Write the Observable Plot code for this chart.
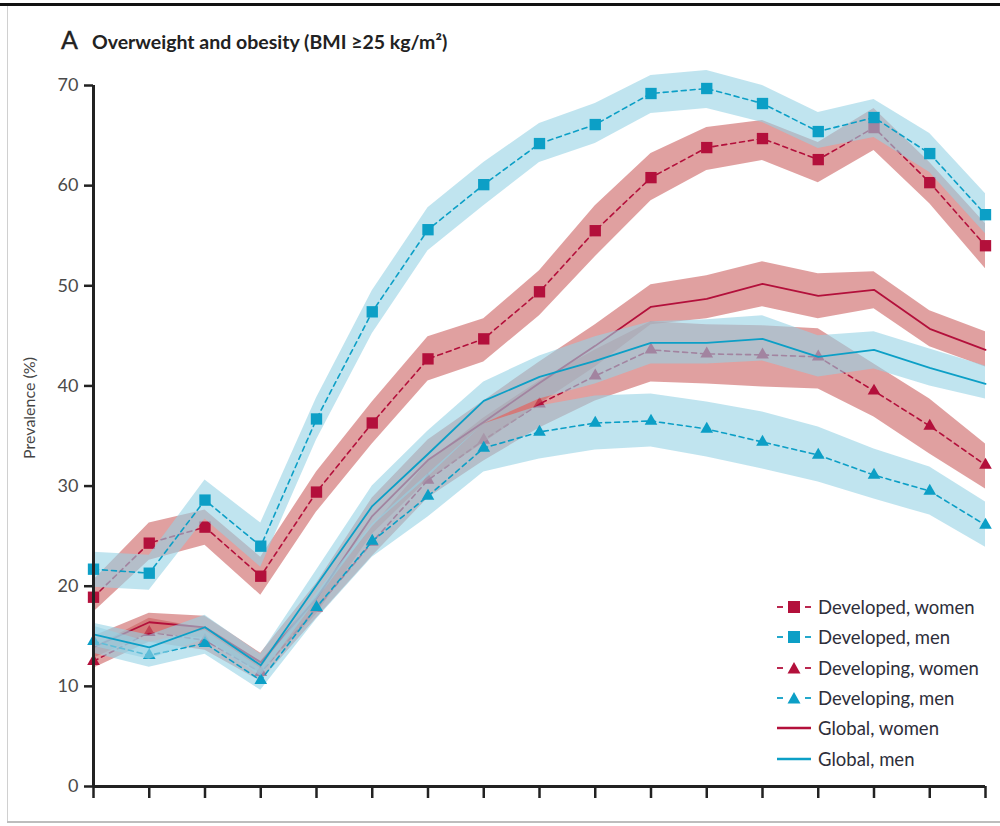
<!DOCTYPE html>
<html>
<head>
<meta charset="utf-8">
<script src="https://cdn.jsdelivr.net/npm/d3@7"></script>
<script src="https://cdn.jsdelivr.net/npm/@observablehq/plot@0.6"></script>
<style>
  body { margin: 0; background: #fff; }
  #wrap { position: relative; width: 1000px; height: 826px; overflow: hidden; font-family: Lato, "Open Sans", sans-serif; background: #fff; }
  #topbar { position: absolute; left: 0; top: 3px; width: 1000px; height: 3px; background: #111; }
  #leftbar { position: absolute; left: 7px; top: 6px; width: 1px; height: 816px; background: #d0d0d0; }
  #botbar { position: absolute; left: 7px; top: 821px; width: 993px; height: 2px; background: #bdbdbd; }
  #chart { position: absolute; left: 0; top: 0; width: 1000px; height: 826px; }
  #chart svg { max-width: none !important; }
  #title { position: absolute; left: 61px; top: 24px; color: #222; white-space: nowrap; }
  #title .letter { font-size: 25px; font-weight: 400; margin-right: 14px; -webkit-text-stroke: 0.4px #222; }
  #title .txt { font-size: 19.5px; font-weight: 700; letter-spacing: 0px; }
  #ylabel { position: absolute; left: 28px; top: 408px; transform: translate(-50%, -50%) rotate(-90deg); font-size: 16px; color: #444; white-space: nowrap; }
  #legend { position: absolute; left: 775px; top: 592px; }
  .lg { height: 30.3px; display: flex; align-items: center; }
  .lg svg { width: 38px; height: 22px; margin-right: 5px; }
  .lg span { font-size: 18.5px; color: #2e2e3a; white-space: nowrap; }
</style>
</head>
<body>
<div id="wrap">
  <div id="topbar"></div>
  <div id="leftbar"></div>
  <div id="botbar"></div>
  <div id="chart"></div>
  <div id="title"><span class="letter">A</span><span class="txt">Overweight and obesity (BMI ≥25 kg/m²)</span></div>
  <div id="ylabel">Prevalence (%)</div>
  <div id="legend"></div>
</div>
<script>
// Age groups (x categories; labels not shown in the reference)
const ages = ["2–4","5–9","10–14","15–19","20–24","25–29","30–34","35–39","40–44","45–49","50–54","55–59","60–64","65–69","70–74","75–79","80+"];
const yTicks = [0, 10, 20, 30, 40, 50, 60, 70];

// Developed, women
const devWomen   = [18.9, 24.3, 25.9, 21.0, 29.4, 36.3, 42.7, 44.7, 49.4, 55.5, 60.8, 63.8, 64.7, 62.6, 65.8, 60.3, 54.0];
const devWomenLo = [17.4, 22.6, 24.1, 19.1, 27.4, 34.2, 40.5, 42.4, 47.0, 52.9, 58.5, 61.5, 62.5, 60.3, 63.5, 58.2, 51.7];
const devWomenHi = [20.6, 26.3, 27.6, 22.9, 31.4, 38.4, 44.9, 46.7, 51.5, 58.0, 63.2, 65.8, 66.5, 64.3, 67.7, 62.3, 56.2];
// Developed, men
const devMen   = [21.7, 21.3, 28.6, 24.0, 36.7, 47.4, 55.6, 60.1, 64.2, 66.1, 69.2, 69.7, 68.2, 65.4, 66.8, 63.2, 57.1];
const devMenLo = [19.9, 19.6, 26.7, 21.9, 34.6, 45.2, 53.5, 58.0, 62.3, 64.2, 67.2, 67.7, 66.3, 63.7, 64.8, 61.3, 55.2];
const devMenHi = [23.4, 23.1, 30.6, 26.3, 38.8, 49.5, 57.8, 62.3, 66.2, 68.2, 71.0, 71.5, 70.0, 67.3, 68.6, 65.2, 59.2];
// Developing, women
const dvgWomen   = [12.5, 15.4, 14.6, 11.4, 17.8, 24.4, 30.6, 34.6, 38.2, 41.0, 43.6, 43.2, 43.1, 42.9, 39.5, 36.0, 32.1];
const dvgWomenLo = [11.8, 14.4, 13.6, 10.5, 16.8, 23.0, 28.8, 32.5, 35.8, 38.5, 40.4, 40.2, 39.9, 39.7, 36.9, 33.2, 29.7];
const dvgWomenHi = [13.9, 16.8, 15.8, 12.5, 19.0, 25.9, 32.4, 36.8, 40.5, 43.6, 46.4, 46.1, 46.0, 45.7, 42.2, 38.7, 34.2];
// Developing, men
const dvgMen   = [14.5, 13.1, 14.3, 10.6, 17.9, 24.5, 29.0, 33.8, 35.4, 36.3, 36.5, 35.7, 34.4, 33.1, 31.1, 29.5, 26.1];
const dvgMenLo = [13.3, 11.9, 13.2,  9.6, 16.7, 22.9, 26.9, 31.4, 32.7, 33.6, 33.9, 32.9, 31.7, 30.4, 28.7, 27.1, 23.9];
const dvgMenHi = [16.0, 14.4, 15.6, 11.8, 19.3, 26.2, 31.2, 36.2, 38.0, 39.0, 39.2, 38.4, 37.4, 35.9, 33.7, 31.9, 28.4];
// Global, women
const gloWomen   = [13.9, 16.4, 15.9, 12.4, 18.8, 27.0, 32.6, 36.4, 40.3, 44.0, 47.9, 48.7, 50.2, 49.0, 49.6, 45.7, 43.6];
const gloWomenLo = [12.8, 15.3, 14.8, 11.3, 17.2, 25.2, 30.6, 34.3, 38.2, 41.9, 46.1, 46.7, 47.9, 46.7, 47.7, 43.9, 41.9];
const gloWomenHi = [15.0, 17.3, 17.0, 13.3, 20.3, 28.8, 34.6, 38.5, 42.4, 46.1, 50.1, 51.0, 52.4, 51.2, 51.4, 47.5, 45.4];
// Global, men
const gloMen   = [15.2, 13.9, 15.9, 12.1, 20.1, 28.0, 33.2, 38.5, 40.9, 42.5, 44.3, 44.3, 44.7, 42.9, 43.6, 41.8, 40.2];
const gloMenLo = [14.0, 12.7, 14.7, 11.0, 18.6, 26.0, 30.9, 36.2, 38.7, 40.2, 42.2, 42.2, 42.5, 40.9, 41.7, 40.0, 38.7];
const gloMenHi = [16.3, 15.1, 17.1, 13.2, 21.6, 30.0, 35.5, 40.4, 43.0, 44.9, 46.4, 46.6, 47.0, 45.0, 45.4, 43.7, 42.0];

const RED = "#b3103b", BLUE = "#0c9fc6";
const RED_BAND = "#cb6161", BLUE_BAND = "#96d2e4";

const rows = (v, lo, hi) => ages.map((a, i) => ({age: a, v: v[i], lo: lo[i], hi: hi[i]}));

const series = [
  {name: "Developed, women",  d: rows(devWomen, devWomenLo, devWomenHi), col: RED,  band: RED_BAND,  sym: "square",   dash: true},
  {name: "Developed, men",    d: rows(devMen, devMenLo, devMenHi),       col: BLUE, band: BLUE_BAND, sym: "square",   dash: true},
  {name: "Developing, women", d: rows(dvgWomen, dvgWomenLo, dvgWomenHi), col: RED,  band: RED_BAND,  sym: "triangle", dash: true},
  {name: "Developing, men",   d: rows(dvgMen, dvgMenLo, dvgMenHi),       col: BLUE, band: BLUE_BAND, sym: "triangle", dash: true},
  {name: "Global, women",     d: rows(gloWomen, gloWomenLo, gloWomenHi), col: RED,  band: RED_BAND,  sym: null,       dash: false},
  {name: "Global, men",       d: rows(gloMen, gloMenLo, gloMenHi),       col: BLUE, band: BLUE_BAND, sym: null,       dash: false}
];

function seriesMarks(s) {
  const m = [Plot.areaY(s.d, {x: "age", y1: "lo", y2: "hi", fill: s.band, fillOpacity: 0.6})];
  m.push(Plot.lineY(s.d, {x: "age", y: "v", stroke: s.col, strokeWidth: s.dash ? 1.6 : 1.8, strokeDasharray: s.dash ? "5,4" : null}));
  if (s.sym) m.push(Plot.dot(s.d, {x: "age", y: "v", symbol: s.sym, fill: s.col, r: s.sym === "square" ? 6.4 : 4.7}));
  return m;
}

const reds = series.filter(s => s.col === RED);
const blues = series.filter(s => s.col === BLUE);

const plot = Plot.plot({
  width: 1000,
  height: 826,
  marginTop: 85,
  marginBottom: 40,
  marginLeft: 93,
  marginRight: 15,
  style: {fontFamily: "Lato, 'Open Sans', sans-serif", background: "transparent", overflow: "visible"},
  x: {type: "point", domain: ages, padding: 0, round: false, range: [93, 985]},
  y: {domain: [0, 70], range: [786, 85]},
  marks: [
    ...reds.flatMap(seriesMarks),
    ...blues.flatMap(seriesMarks),
    Plot.ruleY([0], {stroke: "#222", strokeWidth: 3}),
    Plot.ruleX([ages[0]], {y1: 0, y2: 70, stroke: "#222", strokeWidth: 3}),
    Plot.axisY({ticks: yTicks, tickSize: 9, tickPadding: 6, stroke: "#222", strokeWidth: 2.5, fill: "#4a4a4a", fontSize: 18, label: null}),
    Plot.axisX({tickSize: 12, stroke: "#222", strokeWidth: 2.5, tickFormat: () => "", label: null})
  ]
});
document.getElementById("chart").appendChild(plot);

// Legend
const lg = document.getElementById("legend");
for (const s of series) {
  const row = document.createElement("div");
  row.className = "lg";
  let sym = "";
  if (s.sym === "square") sym = `<rect x="13" y="5" width="12" height="12" fill="${s.col}"/>`;
  if (s.sym === "triangle") sym = `<path d="M19,5 L25.5,16.5 L12.5,16.5 Z" fill="${s.col}"/>`;
  const line = s.dash
    ? `<line x1="2" x2="8" y1="11" y2="11" stroke="${s.col}" stroke-width="1.8"/><line x1="30" x2="36" y1="11" y2="11" stroke="${s.col}" stroke-width="1.8"/>`
    : `<line x1="2" x2="36" y1="11" y2="11" stroke="${s.col}" stroke-width="2.4"/>`;
  row.innerHTML = `<svg viewBox="0 0 38 22">${line}${sym}</svg><span>${s.name}</span>`;
  lg.appendChild(row);
}
</script>
</body>
</html>
